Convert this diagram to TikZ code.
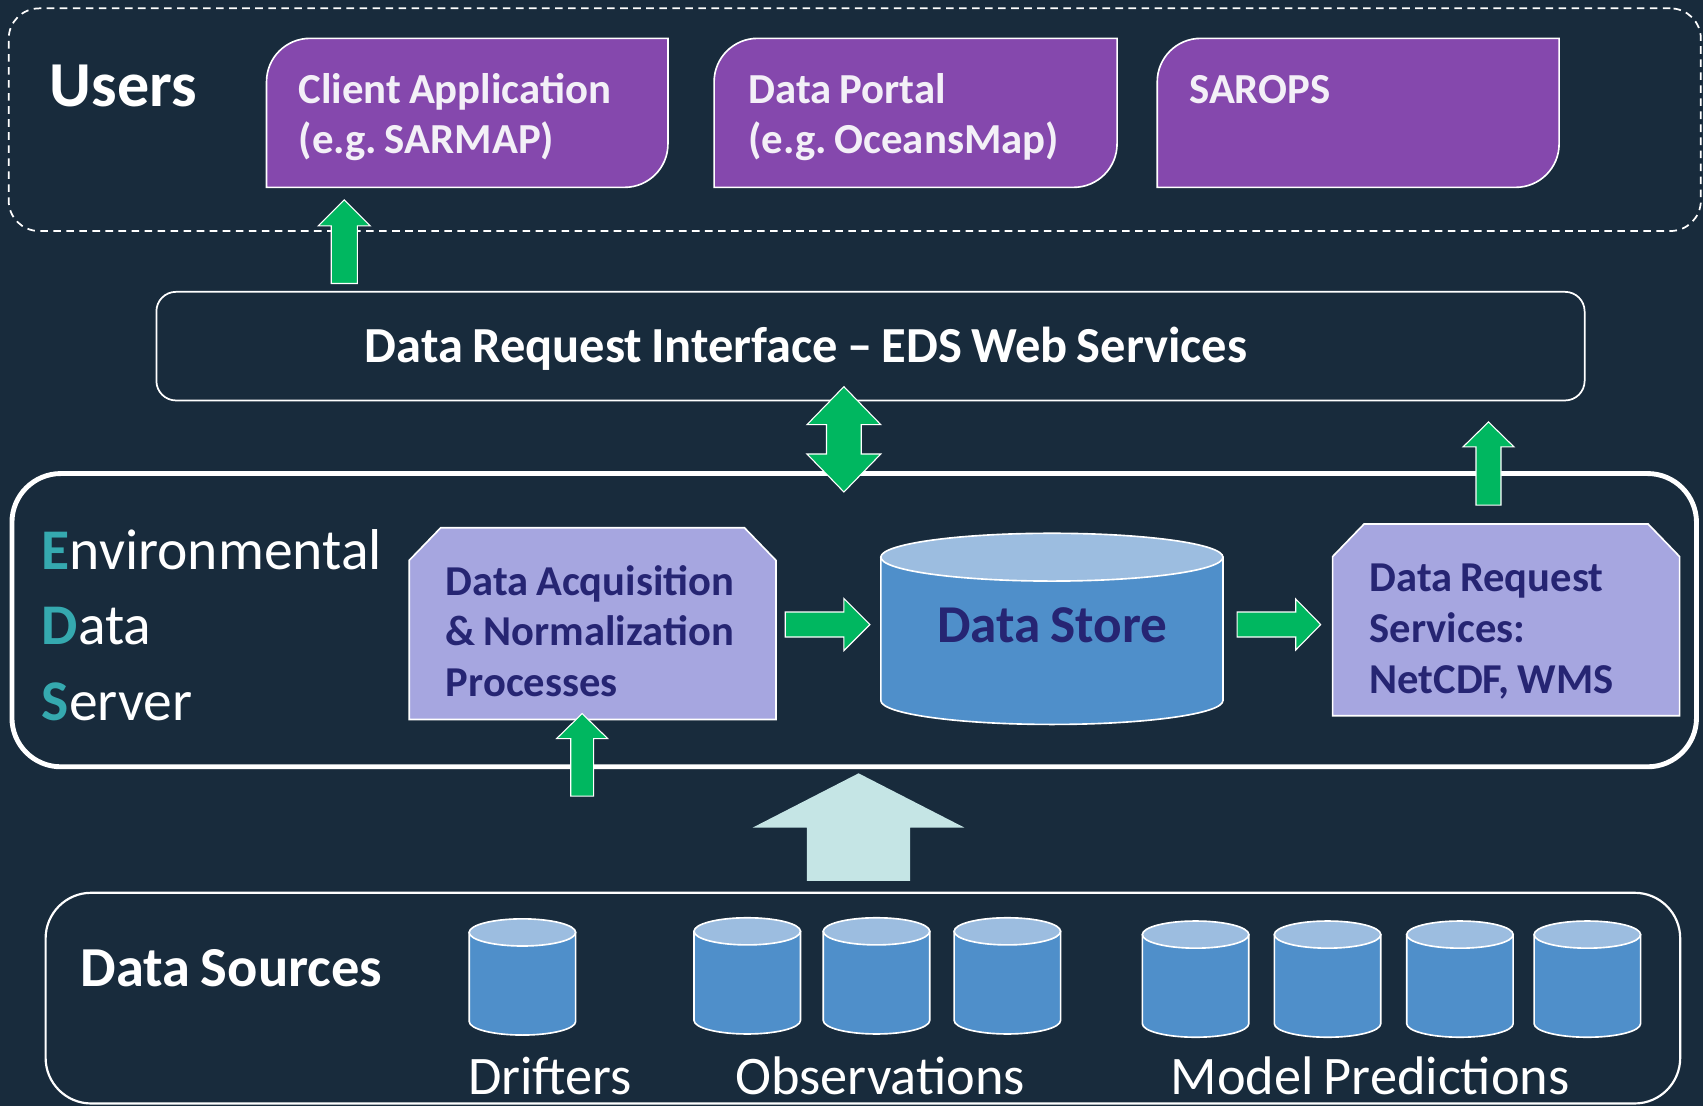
\documentclass[tikz,border=0pt]{standalone}
\usepackage{fontspec}
\setmainfont{Carlito}[WordSpace=0.8]
\usetikzlibrary{calc}

\definecolor{bgnavy}{HTML}{182B3C}
\definecolor{userpurple}{HTML}{8548AD}
\definecolor{usertext}{HTML}{F3F0F7}
\definecolor{proclav}{HTML}{A6A6E0}
\definecolor{procink}{HTML}{262573}
\definecolor{cylbodyc}{HTML}{4F8FCA}
\definecolor{cyltopc}{HTML}{9CBDE0}
\definecolor{flowgreen}{HTML}{00B760}
\definecolor{ingestcyan}{HTML}{C5E5E5}
\definecolor{edsteal}{HTML}{35A9AF}

\tikzset{
  holder/.style={inner sep=0pt, outer sep=0pt, draw=none},
  userfill/.style={fill=userpurple, draw=white, line width=1.5pt},
  procfill/.style={fill=proclav, draw=white, line width=1.5pt},
  cylbody/.style={fill=cylbodyc, draw=white, line width=1.5pt},
  cyltop/.style={fill=cyltopc, draw=white, line width=1.5pt},
  flow/.style={fill=flowgreen, draw=white, line width=1pt},
  ingest/.style={fill=ingestcyan, draw=none},
  lbl/.style={inner sep=0pt, outer sep=0pt, anchor=base west, text=white},
  % multi-line labels: keep the font's own interword space
  multiline/.style={lbl, text width=#1, align=left,
    execute at begin node={\spaceskip=0pt\xspaceskip=0pt\frenchspacing}},
  boxtext/.style={multiline=360pt,
    font=\bfseries\fontsize{39.4}{46.5}\selectfont},
  proctext/.style={multiline=360pt, text=procink,
    font=\bfseries\fontsize{39.2}{46.7}\selectfont},
  srclabel/.style={lbl, font=\fontsize{50}{60}\selectfont},
}

% purple box with rounded top-left and bottom-right corners
\newcommand\userbox[1]{%
  \filldraw[userfill] (#1.south west) -- ($(#1.north west)+(0,-40)$)
    arc[start angle=180,end angle=90,radius=40pt] -- (#1.north east)
    -- ($(#1.south east)+(0,40)$)
    arc[start angle=0,end angle=-90,radius=40pt] -- cycle;}

% process box with both top corners cut off
\newcommand\chambox[1]{%
  \filldraw[procfill] (#1.south west) -- ($(#1.north west)+(0,-30)$)
    -- ($(#1.north west)+(29,0)$) -- ($(#1.north east)+(-29,0)$)
    -- ($(#1.north east)+(0,-30)$) -- (#1.south east) -- cycle;}

% database cylinder over a node: name, x radius, y radius
\newcommand\dbcyl[3]{%
  \filldraw[cylbody] ($(#1.north west)+(0,-#3)$) -- ($(#1.south west)+(0,#3)$)
    arc[start angle=180,end angle=360,x radius=#2pt,y radius=#3pt]
    -- ($(#1.north east)+(0,-#3)$) -- cycle;
  \filldraw[cyltop] ($(#1.north)+(0,-#3)$) ellipse [x radius=#2pt, y radius=#3pt];}

% block arrow: [style] from, to, shaft half width, head half width, head length
\newcommand\blockarrow[6][]{%
  \coordinate (bhead) at ($(#3)!#6!(#2)$);
  \filldraw[#1] ($(#2)!#4!90:(#3)$) -- ($(bhead)!#4!90:(#3)$)
    -- ($(bhead)!#5!90:(#3)$) -- (#3) -- ($(bhead)!#5!-90:(#3)$)
    -- ($(bhead)!#4!-90:(#3)$) -- ($(#2)!#4!-90:(#3)$) -- cycle;}

% two-headed block arrow, same arguments
\newcommand\twowayarrow[6][]{%
  \coordinate (bheadA) at ($(#3)!#6!(#2)$);
  \coordinate (bheadB) at ($(#2)!#6!(#3)$);
  \filldraw[#1] (#3) -- ($(bheadA)!#5!90:(#3)$) -- ($(bheadA)!#4!90:(#3)$)
    -- ($(bheadB)!#4!-90:(#2)$) -- ($(bheadB)!#5!-90:(#2)$) -- (#2)
    -- ($(bheadB)!#5!90:(#2)$) -- ($(bheadB)!#4!90:(#2)$)
    -- ($(bheadA)!#4!-90:(#3)$) -- ($(bheadA)!#5!-90:(#3)$) -- cycle;}

\begin{document}
\begin{tikzpicture}[x=1pt,y=1pt]
\useasboundingbox (0,0) rectangle (1568,-1018);
\fill[bgnavy] (0,0) rectangle (1568,-1018);

% ---------- users ----------
\node[holder, draw=white, dash pattern=on 7pt off 5pt, line width=1.6pt,
  rounded corners=28pt, minimum width=1558pt, minimum height=205pt]
  (usersgrp) at (787,-110.2) {};
\node[lbl, font=\bfseries\fontsize{59}{66}\selectfont] (userslbl) at (46,-97.6) {Users};

\node[holder, minimum width=369.6pt, minimum height=137.2pt] (client) at (430.2,-103.9) {};
\node[holder, minimum width=371pt, minimum height=137.2pt] (portal) at (843,-103.9) {};
\node[holder, minimum width=370pt, minimum height=137.2pt] (sarops) at (1250.5,-103.9) {};
\userbox{client}
\userbox{portal}
\userbox{sarops}
\node[boxtext, text=usertext] (clienttxt) at (275,-95) {Client Application\\(e.g. SARMAP)};
\node[boxtext, text=usertext] (portaltxt) at (689,-95) {Data Portal\\(e.g. OceansMap)};
\node[boxtext, text=usertext] (saropstxt) at (1095,-95) {SAROPS};

% ---------- request interface ----------
\node[holder, draw=white, line width=1.6pt, rounded corners=18pt,
  minimum width=1315pt, minimum height=100pt] (dri) at (801.5,-318.7) {};
\node[lbl, font=\bfseries\fontsize{46.5}{54}\selectfont] (dritxt) at (336,-334)
  {Data Request Interface – EDS Web Services};

% ---------- environmental data server ----------
\node[holder, draw=white, line width=4.5pt, rounded corners=45pt,
  minimum width=1551pt, minimum height=270pt] (eds) at (786.5,-571) {};
\node[multiline=330pt, font=\fontsize{53}{69.5}\selectfont]
  (edstxt) at (38.5,-524)
  {\textcolor{edsteal}{\bfseries E}nvironmental\\
   \textcolor{edsteal}{\bfseries D}ata\\
   \textcolor{edsteal}{\bfseries S}erver};

\node[holder, minimum width=337.7pt, minimum height=176.5pt] (acq) at (545.6,-574.2) {};
\chambox{acq}
\node[proctext] (acqtxt) at (410.5,-548)
  {Data Acquisition\\\& Normalization\\Processes};

\node[holder, minimum width=315pt, minimum height=176pt] (store) at (968.5,-579) {};
\dbcyl{store}{157.5}{22}
\node[inner sep=0pt, anchor=base, text=procink, font=\bfseries\fontsize{49}{56}\selectfont]
  (storetxt) at (969,-592) {Data Store};

\node[holder, minimum width=319.5pt, minimum height=176.5pt] (srv) at (1386.7,-570.7) {};
\chambox{srv}
\node[proctext] (srvtxt) at (1261,-545)
  {Data Request\\Services:\\NetCDF, WMS};

% ---------- data sources ----------
\node[holder, draw=white, line width=2pt, rounded corners=42pt,
  minimum width=1505pt, minimum height=194pt] (src) at (794.5,-919) {};
\node[lbl, font=\bfseries\fontsize{52}{60}\selectfont] (srclbl) at (74.5,-908) {Data Sources};

\node[holder, minimum width=98pt, minimum height=107pt] (drift) at (481,-899.5) {};
\node[holder, minimum width=98pt, minimum height=107pt] (obsA) at (688,-898.5) {};
\node[holder, minimum width=98pt, minimum height=107pt] (obsB) at (807,-898.5) {};
\node[holder, minimum width=98pt, minimum height=107pt] (obsC) at (927.5,-898.5) {};
\node[holder, minimum width=98pt, minimum height=107pt] (modA) at (1100.8,-901.5) {};
\node[holder, minimum width=98pt, minimum height=107pt] (modB) at (1222.3,-901.5) {};
\node[holder, minimum width=98pt, minimum height=107pt] (modC) at (1344.2,-901.5) {};
\node[holder, minimum width=98pt, minimum height=107pt] (modD) at (1461.5,-901.5) {};
\foreach \c in {drift,obsA,obsB,obsC,modA,modB,modC,modD}{\dbcyl{\c}{49}{12.5}}

\node[srclabel] (driftlbl) at (431,-1008) {Drifters};
\node[srclabel] (obslbl) at (677,-1008) {Observations};
\node[srclabel] (modlbl) at (1078,-1008) {Model Predictions};

% ---------- flow arrows ----------
\coordinate (toClientS) at (317,-261);
\coordinate (toClientE) at (317,-184);
\blockarrow[flow]{toClientS}{toClientE}{12pt}{24pt}{24pt}

\coordinate (toDriS) at (1370.5,-465);
\coordinate (toDriE) at (1370.5,-388.5);
\blockarrow[flow]{toDriS}{toDriE}{11.5pt}{23.5pt}{23pt}

\coordinate (toAcqS) at (536,-733);
\coordinate (toAcqE) at (536,-657);
\blockarrow[flow]{toAcqS}{toAcqE}{10.5pt}{23.5pt}{23pt}

\coordinate (acqOut) at (723,-575);
\coordinate (storeIn) at (801,-575);
\blockarrow[flow]{acqOut}{storeIn}{11.5pt}{24pt}{24pt}

\coordinate (storeOut) at (1139,-575);
\coordinate (srvIn) at (1216,-575);
\blockarrow[flow]{storeOut}{srvIn}{11.5pt}{23.5pt}{23pt}

\coordinate (edsTop) at (777,-453);
\coordinate (driBottom) at (777,-356);
\twowayarrow[flow]{edsTop}{driBottom}{16pt}{34pt}{35pt}

\coordinate (srcTop) at (790.5,-811);
\coordinate (edsBottom) at (790.5,-712);
\blockarrow[ingest]{srcTop}{edsBottom}{47.5pt}{97.5pt}{50pt}
\end{tikzpicture}
\end{document}
